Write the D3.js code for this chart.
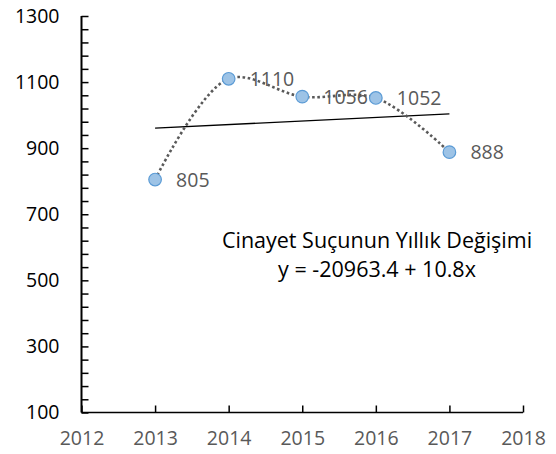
<!DOCTYPE html>
<html><head><meta charset="utf-8">
<script src="https://cdn.jsdelivr.net/npm/d3@7"></script>
<style>
html,body{margin:0;padding:0;background:#fff;}
svg{display:block;font-family:"Open Sans",sans-serif;}
</style></head>
<body>
<script>
const years = [2013, 2014, 2015, 2016, 2017];
const values = [805, 1110, 1056, 1052, 888];
const xTicks = [2012, 2013, 2014, 2015, 2016, 2017, 2018];
const yTicks = [100, 300, 500, 700, 900, 1100, 1300];
const titleLines = ["Cinayet Suçunun Yıllık Değişimi", "y = -20963.4 + 10.8x"];

const W = 556, H = 454;
const svg = d3.select("body").append("svg").attr("width", W).attr("height", H);

const x = d3.scaleLinear().domain([2012, 2018]).range([81.5, 523]);
const y = d3.scaleLinear().domain([100, 1300]).range([412.5, 16]);

// y axis labels
const yLab = svg.append("g").attr("transform", `translate(${x(2012)},0)`)
  .call(d3.axisLeft(y).tickValues(yTicks).tickSize(0).tickPadding(22).tickFormat(d3.format("d")));
yLab.select(".domain").remove();
yLab.selectAll("text").attr("fill", "#000").style("font-size", "19.5px").style("font-family", "'Open Sans',sans-serif");

// y axis ticks (inside)
const yMinor = d3.range(100, 1301, 40);
const yT = svg.append("g").attr("transform", `translate(${x(2012)},0)`)
  .call(d3.axisRight(y).tickValues(yMinor).tickSize(7).tickFormat(""));
yT.select(".domain").attr("stroke", "#000").attr("stroke-width", 2).attr("d", `M0,${y(1300)}V${y(100)}`);
yT.selectAll(".tick line").attr("stroke", "#000").attr("stroke-width", 1.5);

// x axis labels
const xLab = svg.append("g").attr("transform", `translate(0,${y(100)})`)
  .call(d3.axisBottom(x).tickValues(xTicks).tickSize(0).tickPadding(19).tickFormat(d3.format("d")));
xLab.select(".domain").remove();
xLab.selectAll("text").attr("fill", "#595959").style("font-size", "19.5px").style("font-family", "'Open Sans',sans-serif");

// x axis ticks (inside)
const xT = svg.append("g").attr("transform", `translate(0,${y(100)})`)
  .call(d3.axisTop(x).tickValues(xTicks).tickSize(7).tickFormat(""));
xT.select(".domain").attr("stroke", "#000").attr("stroke-width", 1.5).attr("d", `M${x(2012)},0H${x(2018)}`);
xT.selectAll(".tick line").attr("stroke", "#000").attr("stroke-width", 1.5);

// linear trend (least squares from data)
const mx = d3.mean(years), my = d3.mean(values);
const slope = d3.sum(years, (d, i) => (d - mx) * (values[i] - my)) / d3.sum(years, d => (d - mx) ** 2);
const icpt = my - slope * mx;
const tx = [years[0], years[years.length - 1]];
svg.append("line")
  .attr("x1", x(tx[0])).attr("y1", y(icpt + slope * tx[0]))
  .attr("x2", x(tx[1])).attr("y2", y(icpt + slope * tx[1]))
  .attr("stroke", "#000").attr("stroke-width", 1.3);

// smoothed dotted line
const pts = years.map((d, i) => [d, values[i]]);
svg.append("path")
  .attr("d", d3.line().x(d => x(d[0])).y(d => y(d[1])).curve(d3.curveCatmullRom.alpha(0.5))(pts))
  .attr("fill", "none").attr("stroke", "#595959").attr("stroke-width", 2.6)
  .attr("stroke-dasharray", "2.6,2.6");

// markers
svg.selectAll("circle.pt").data(pts).join("circle").attr("class", "pt")
  .attr("cx", d => x(d[0])).attr("cy", d => y(d[1])).attr("r", 6.3)
  .attr("fill", "#9dc3e6").attr("stroke", "#5b9bd5").attr("stroke-width", 1.2);

// data labels
svg.selectAll("text.lbl").data(pts).join("text").attr("class", "lbl")
  .attr("x", d => x(d[0]) + 21).attr("y", d => y(d[1]) + 7)
  .attr("fill", "#595959").style("font-size", "19.5px")
  .text(d => d[1]);

// title
svg.selectAll("text.ttl").data(titleLines).join("text").attr("class", "ttl")
  .attr("x", 377).attr("y", (d, i) => 248 + i * 29)
  .attr("text-anchor", "middle").attr("fill", "#000").style("font-size", "21.5px")
  .text(d => d);
</script>
</body></html>
